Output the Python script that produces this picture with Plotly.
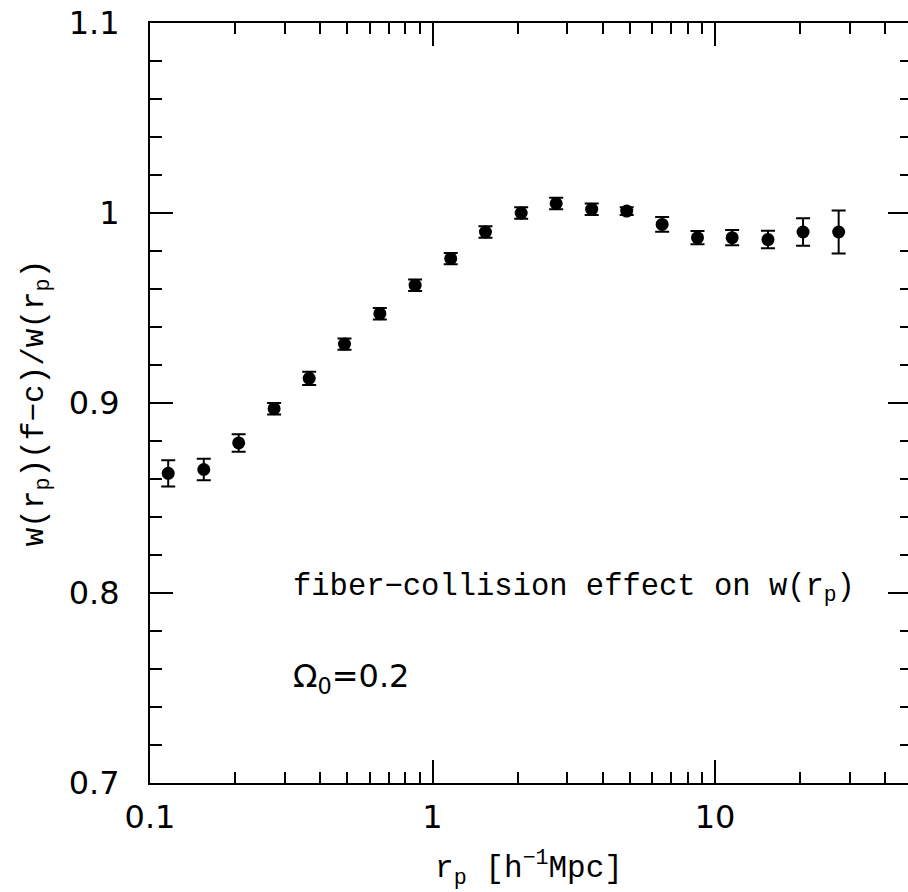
import plotly.graph_objects as go

# projected separation bins [h^-1 Mpc]
rp = [0.116, 0.155, 0.206, 0.275, 0.366, 0.488, 0.651, 0.868, 1.16, 1.54,
      2.06, 2.74, 3.66, 4.87, 6.50, 8.67, 11.5, 15.4, 20.5, 27.4]
# w(rp)(f-c) / w(rp)
ratio = [0.863, 0.865, 0.879, 0.897, 0.913, 0.931, 0.947, 0.962, 0.976, 0.990,
         1.000, 1.005, 1.002, 1.001, 0.994, 0.987, 0.987, 0.986, 0.990, 0.990]
err = [0.0069, 0.0057, 0.0046, 0.003, 0.0035, 0.003, 0.003, 0.003, 0.003, 0.003,
       0.003, 0.003, 0.003, 0.002, 0.0039, 0.0035, 0.004, 0.0046, 0.0073, 0.0113]

y_major = [0.7, 0.8, 0.9, 1.0, 1.1]
y_major_text = ["0.7", "0.8", "0.9", "1", "1.1"]
x_major = [0.1, 1, 10]
x_major_text = ["0.1", "1", "10"]
x_minor = [0.2, 0.3, 0.4, 0.5, 0.6, 0.7, 0.8, 0.9,
           2, 3, 4, 5, 6, 7, 8, 9, 20, 30, 40]

SERIF = "Liberation Mono"
SANS = "DejaVu Sans"

fig = go.Figure()
fig.add_trace(go.Scatter(
    x=rp, y=ratio, mode="markers",
    marker=dict(color="black", size=13),
    error_y=dict(type="data", array=err, visible=True, color="black",
                 thickness=2, width=7),
    showlegend=False, hoverinfo="x+y",
))
# invisible helper so the right-hand tick axis is drawn
fig.add_trace(go.Scatter(
    x=[rp[0]], y=[ratio[0]], yaxis="y2", mode="markers",
    marker=dict(opacity=0), showlegend=False, hoverinfo="skip",
))

fig.update_layout(
    width=908, height=892,
    margin=dict(l=150, r=0, t=23, b=109),
    paper_bgcolor="white", plot_bgcolor="white",
    xaxis=dict(
        type="log", range=[-1, 1.6832],
        showline=True, linecolor="black", linewidth=2, mirror="ticks",
        ticks="inside", ticklen=23, tickwidth=2, tickcolor="black",
        tickvals=x_major, ticktext=x_major_text,
        tickfont=dict(family=SANS, size=32, color="black"),
        ticklabelstandoff=5,
        minor=dict(tickvals=x_minor, ticks="inside", ticklen=11,
                   tickwidth=2, tickcolor="black", showgrid=False),
        showgrid=False, zeroline=False,
        title=dict(text="r<sub>p</sub> [h<sup>−1</sup>Mpc]",
                   font=dict(family=SERIF, size=31, color="black"),
                   standoff=20),
    ),
    yaxis=dict(
        range=[0.7, 1.1],
        showline=True, linecolor="black", linewidth=2,
        ticks="inside", ticklen=23, tickwidth=2, tickcolor="black",
        tickvals=y_major, ticktext=y_major_text,
        tickfont=dict(family=SANS, size=32, color="black"),
        ticklabelstandoff=22,
        minor=dict(tick0=0.7, dtick=0.02, ticks="inside", ticklen=12,
                   tickwidth=2, tickcolor="black", showgrid=False),
        showgrid=False, zeroline=False,
        title=dict(text="w(r<sub>p</sub>)(f−c)/w(r<sub>p</sub>)",
                   font=dict(family=SERIF, size=31, color="black"),
                   standoff=16),
    ),
    yaxis2=dict(
        range=[0.7, 1.1], overlaying="y", side="right", anchor="x",
        showline=False, showticklabels=False,
        ticks="inside", ticklen=20, tickwidth=2, tickcolor="black",
        tickvals=y_major,
        minor=dict(tick0=0.7, dtick=0.02, ticks="inside", ticklen=8,
                   tickwidth=2, tickcolor="black", showgrid=False),
        showgrid=False, zeroline=False,
    ),
    annotations=[
        dict(text="fiber−collision effect on w(r<sub>p</sub>)",
             xref="paper", yref="paper", x=0.1855, y=0.2565,
             xanchor="left", yanchor="middle", showarrow=False,
             font=dict(family=SERIF, size=30.5, color="black")),
        dict(text="Ω<sub>0</sub>=0.2",
             xref="paper", yref="paper", x=0.186, y=0.138,
             xanchor="left", yanchor="middle", showarrow=False,
             font=dict(family=SANS, size=32, color="black")),
    ],
)

fig.write_html(
    "out.html",
    config={"displayModeBar": False},
    post_script="document.body.style.margin='0';document.body.style.overflow='hidden';",
)
